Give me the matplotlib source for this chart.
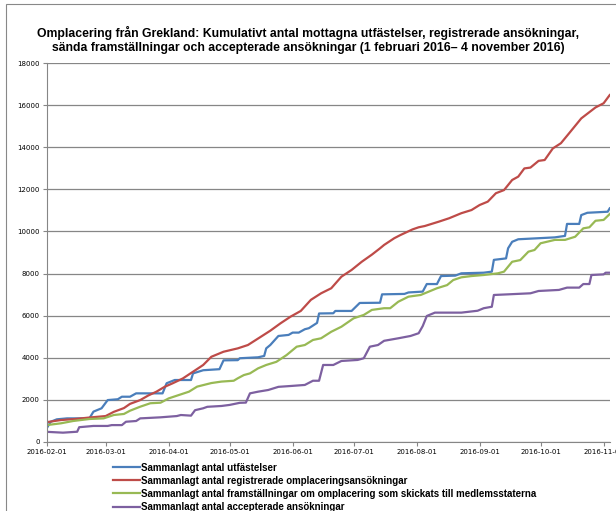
import numpy as np
import matplotlib
matplotlib.use('Agg')
import matplotlib.pyplot as plt
import matplotlib.dates as mdates
from matplotlib.patches import Rectangle

start = np.datetime64('2016-02-01')

# dagar efter 1 februari 2016 och kumulativa värden
utf_d = [0,2,5,10,21,23,27,30,35,37,41,44,57,59,63,71,72,77,85,87,94,95,104,107,108,
         110,114,119,121,124,127,129,133,134,141,142,150,154,164,165,176,178,185,187,192,
         194,201,204,215,219,220,226,227,229,232,250,255,256,262,263,266,276,277]
utf_v = [640,950,1065,1110,1110,1430,1590,1980,2020,2140,2140,2300,2300,2780,2935,2935,3250,3400,3450,3870,
         3880,3970,4015,4080,4440,4600,5030,5080,5190,5190,5350,5400,5650,6100,6110,6220,6220,6600,6610,7010,
         7030,7100,7140,7500,7500,7880,7900,8010,8040,8090,8650,8720,9200,9510,9630,9720,9790,10360,10360,10780,
         10890,10940,11100]

reg_d = [0,7,14,21,29,33,38,41,46,50,54,58,62,67,72,77,81,87,94,99,105,110,115,120,125,
         130,135,140,145,150,155,160,164,166,171,174,180,183,186,193,198,204,209,213,217,
         221,225,229,232,235,238,242,245,249,253,257,263,270,274,277]
reg_v = [930,1030,1080,1150,1220,1420,1600,1800,1980,2200,2380,2610,2780,3010,3330,3650,4040,4280,4440,4600,
         4970,5280,5630,5950,6220,6750,7060,7300,7850,8170,8560,8900,9200,9360,9680,9830,10100,10200,10260,10470,
         10630,10870,11020,11260,11420,11820,11970,12450,12610,13000,13040,13360,13400,13950,14200,14670,15380,15900,16100,16490]

fra_d = [0,7,13,21,28,33,38,41,46,51,56,60,65,70,74,81,86,92,94,97,100,104,108,113,118,
         123,127,131,135,140,145,151,156,160,166,169,173,178,184,188,192,197,200,204,209,
         215,222,225,229,233,237,240,243,250,255,260,264,267,270,274,277]
fra_v = [790,875,985,1080,1110,1270,1320,1475,1665,1830,1855,2060,2220,2380,2620,2790,2860,2900,3016,3170,
         3250,3490,3650,3800,4120,4520,4600,4840,4920,5230,5470,5870,6030,6270,6350,6350,6660,6900,6980,7140,
         7300,7450,7690,7820,7880,7930,8010,8090,8560,8640,9040,9120,9440,9600,9600,9750,10150,10200,10510,10550,
         10830]

acc_d = [0,8,15,16,23,30,32,37,39,44,46,56,64,66,71,73,77,79,86,90,95,98,100,104,109,
         114,120,127,131,134,136,141,145,153,156,159,163,166,173,179,183,185,187,191,204,
         212,215,219,220,227,238,242,252,256,262,264,267,268,274,275,277]
acc_v = [470,430,475,690,750,750,790,790,950,985,1110,1160,1220,1270,1240,1500,1590,1660,1700,1750,
         1850,1860,2300,2380,2460,2610,2650,2700,2900,2900,3650,3650,3840,3890,3970,4520,4600,4800,4920,5030,
         5160,5500,5980,6140,6140,6230,6350,6420,6980,7010,7060,7170,7220,7330,7330,7500,7500,7930,7960,8040,
         8040]

etiketter = ['Sammanlagt antal utfästelser',
             'Sammanlagt antal registrerade omplaceringsansökningar',
             'Sammanlagt antal framställningar om omplacering som skickats till medlemsstaterna',
             'Sammanlagt antal accepterade ansökningar']
farger = ['#4A7EBB', '#BE4B48', '#98B954', '#7D60A0']

fig = plt.figure(figsize=(6.16, 5.11), dpi=100)
ax = fig.add_axes([0.0758, 0.1356, 0.914, 0.7405])

serier = [(utf_d, utf_v), (reg_d, reg_v), (fra_d, fra_v), (acc_d, acc_v)]
for (d, v), lab, c in zip(serier, etiketter, farger):
    datum = start + np.array(d).astype('timedelta64[D]')
    ax.plot(datum.astype('datetime64[D]').astype(object), v, color=c, lw=1.6, label=lab)

ax.set_ylim(0, 18000)
ax.set_yticks(range(0, 18001, 2000))
ax.set_xlim(np.datetime64('2016-02-01').astype(object), np.datetime64('2016-11-04').astype(object))
ax.xaxis.set_major_locator(mdates.MonthLocator())
ax.xaxis.set_major_formatter(mdates.DateFormatter('%Y-%m-%d'))
ax.yaxis.grid(True, color='#868686', lw=0.9)
ax.set_axisbelow(True)
for s in ['top', 'right']:
    ax.spines[s].set_visible(False)
for s in ['left', 'bottom']:
    ax.spines[s].set_color('#868686')
ax.tick_params(axis='both', labelsize=5, color='#868686', length=3, width=0.8, pad=2)

fig.suptitle('Omplacering från Grekland: Kumulativt antal mottagna utfästelser, registrerade ansökningar,\n'
             'sända framställningar och accepterade ansökningar (1 februari 2016– 4 november 2016)',
             x=0.5, y=0.95, fontsize=8.8, fontweight='bold', family='Liberation Sans', linespacing=1.3)

ax.legend(loc='upper left', bbox_to_anchor=(0.11, -0.045), frameon=False,
          handlelength=2.8, labelspacing=0.32, handletextpad=0.1, borderaxespad=0,
          prop={'weight': 'bold', 'size': 7, 'family': 'Liberation Sans'})

fig.patches.append(Rectangle((6/616, -0.1), 1.1, (511-4)/511 + 0.1, transform=fig.transFigure,
                             fill=False, edgecolor='#888888', lw=0.8))

plt.savefig('out.png', dpi=100)
